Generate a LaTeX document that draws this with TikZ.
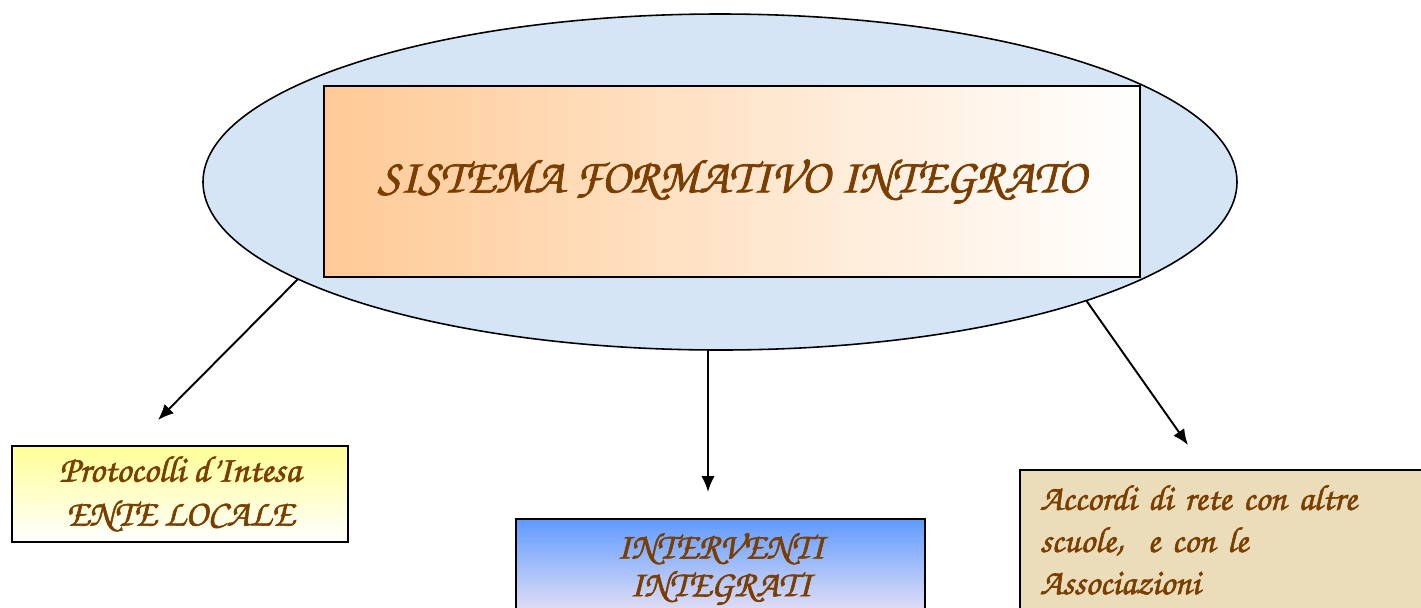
\documentclass[tikz,border=0pt]{standalone}
\usepackage{tikz}
\usepackage{fontspec}
\usetikzlibrary{calc}
\usetikzlibrary{shapes.geometric, arrows.meta}
\newfontfamily\corsiva[FakeBold=1.6]{texgyrechorus-mediumitalic.otf}
\definecolor{brownink}{RGB}{122,62,0}
\definecolor{paleblue}{RGB}{214,229,245}
\definecolor{peach}{RGB}{255,202,150}
\definecolor{parchment}{RGB}{236,221,186}
\definecolor{paleyellow}{RGB}{255,255,150}
\definecolor{skyblue}{RGB}{95,155,255}
\definecolor{mistblue}{RGB}{170,205,245}
\definecolor{lavender}{RGB}{238,228,245}
\tikzstyle{cloud} = [ellipse, 
minimum width=20.68cm, 
minimum height=6.72cm, 
line width=0.9pt, 
draw=black, fill=paleblue]
\tikzstyle{titlebox} = [rectangle, 
minimum width=16.32cm, 
minimum height=3.82cm, 
text centered, 
draw=black, line width=0.9pt, 
left color=peach, right color=white]
\tikzstyle{process} = [rectangle, 
text centered, 
draw=black, line width=1.1pt, 
font=\corsiva\fontsize{21}{25}\selectfont, text=brownink]
\tikzstyle{arrow} = [line width=1.1pt,->,>={Latex[length=9pt,width=7.5pt]}]

\begin{document}
\begin{tikzpicture}

    \clip (0,0) rectangle (28.42,-12.14);
    \useasboundingbox (0,0) rectangle (28.42,-12.14);

    % the flowchart elements
    \node (Sistema) [cloud] at (14.4,-3.64) {};
    \node (Titolo) [titlebox, font=\corsiva\fontsize{27.3}{33}\selectfont, text=brownink] at ($(Sistema) + (0.24,0.01)$) {SISTEMA FORMATIVO INTEGRATO};

    \node (Protocolli) [process, minimum width=6.72cm, minimum height=1.92cm, align=center, top color=paleyellow, bottom color=white] at ($(Sistema) + (-10.8,-6.24)$) {Protocolli d’Intesa\\ENTE LOCALE};
    \node (Interventi) [process, minimum width=8.18cm, minimum height=2.0cm, align=center, top color=skyblue, middle color=mistblue, bottom color=lavender, font=\corsiva\fontsize{21}{21.5}\selectfont] at ($(Sistema) + (0.01,-7.74)$) {INTERVENTI\\INTEGRATI};
    \node (Accordi) [process, minimum width=9cm, minimum height=2.8cm, text width=8.2cm, align=left, fill=parchment, font=\corsiva\fontsize{20.5}{24}\selectfont] at ($(Sistema) + (10.5,-7.16)$) {Accordi di rete con altre\\scuole,~ e con le\\Associazioni};

    % the arrow tips
    \coordinate (tipL) at ($(Sistema) + (-11.24,-4.76)$);
    \coordinate (tipC) at ($(Sistema) + (-0.24,-6.2)$);
    \coordinate (tipR) at ($(Sistema) + (9.36,-5.26)$);

    % the connectors
    \draw [arrow] (Sistema.193) -- (tipL);
    \draw [arrow] (Sistema.south -| tipC) -- (tipC);
    \draw [arrow] (Sistema.-18) -- (tipR);

\end{tikzpicture}
\end{document}
